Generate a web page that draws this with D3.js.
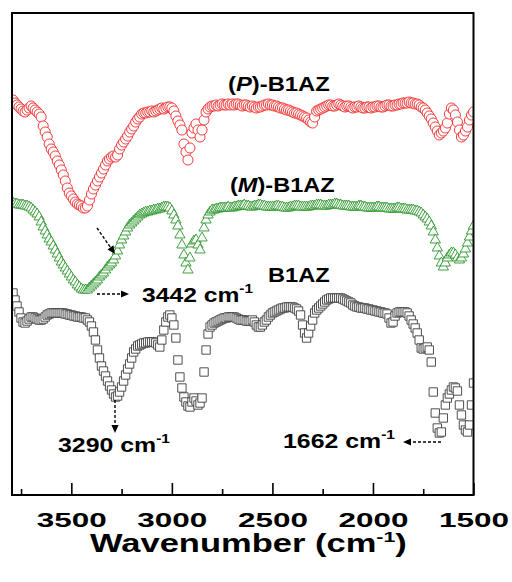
<!DOCTYPE html>
<html><head><meta charset="utf-8">
<script src="https://cdn.jsdelivr.net/npm/d3@7/dist/d3.min.js"></script>
<style>
body{margin:0;background:#fff}
svg{display:block;font-family:"Liberation Sans",Arial,sans-serif;font-weight:bold}
</style>
</head><body>
<svg id="c" width="512" height="582"></svg>
<script>
// Wavenumber grid (cm-1), sampled every 10 cm-1
const wavenumbers = d3.range(3790, 1499, -10);
const xTicksMajor = [3500, 3000, 2500, 2000, 1500];
const xTicksMinor = [3750, 3250, 2750, 2250, 1750];

// Transmittance (a.u., offset)
const seriesP = [
80,79.4,79,78.6,78.2,77.8,77.6,78,78.4,78.8,
78.4,78,77.6,77.2,76.6,74.8,73.6,72.6,71.2,70.2,
69.6,68.8,67.8,67,66,65,63.8,62.4,61.4,60.8,
60.2,59.6,59.2,59,58.8,58.4,58.4,58.8,60,61.2,
62.2,63,63.8,64.6,65.4,66.2,67,67.8,68.2,68.6,
68.8,68.6,69,70.2,71,71.6,72.2,72.8,73.6,74.2,
74.8,75.6,76.2,76.6,77.2,77.4,77.4,77.6,77.6,77.8,
77.6,77.8,78,78.2,78.4,78.2,78.4,78.6,78.6,78.4,
77.8,76.8,75.8,75,74,71.2,69.6,68,70.4,73.4,
74.4,75.2,74,72.6,74,76,77.6,78.2,78.6,78.8,
78.8,79,78.8,79,79.2,79,79,79.2,79,79.2,
79,79.2,79.2,79,78.8,79,79,78.8,78.6,78.8,
78.6,78.4,78.6,78.6,78.8,79,79,79.2,79,79,
78.8,78.8,78.6,78.4,78.4,78.2,78,78,77.8,77.6,
77.4,77.4,77.2,77,76.8,76.6,76.4,76,75.6,75.4,
76.6,77.8,78,78.2,78.4,78.6,78.8,79,79,78.8,
78.8,79,79.2,79,78.8,78.6,78.8,78.8,78.6,78.4,
78.6,78.6,78.8,78.6,78.4,78.4,78.6,78.6,78.4,78.6,
78.6,78.8,78.8,78.6,78.6,78.8,79,79,78.8,78.8,
79,79,79.2,79.2,79.4,79.4,79.4,79.6,79.4,79.4,
79.2,79.2,79,78.6,78.4,78,77.4,76.8,76.2,75.4,
74.6,73.8,73,73.4,73.8,74.4,75.4,77.2,78.4,78,
77,75.6,74,72.6,73,73.8,74.6,76,77,77.6
];
const seriesM = [
59.4,59.2,59.2,59,59,59,58.8,58.8,58.6,58.4,
58,57.6,57.2,56.6,55.6,54.6,53.8,53,52.2,51.6,
50.8,50,49.2,48.4,47.6,47,46.4,45.8,45.2,44.6,
44,43.6,43,42.6,42.2,42,42,42,42.4,42.8,
43.2,43.6,44,44.6,45,45.4,46,46.6,47,47.4,
48,48.8,49.8,51,52,52.8,53.6,54.4,55,55.4,
55.8,56.2,56.6,57,57.2,57.4,57.6,57.6,57.8,57.8,
58,58,58.2,58.2,58.4,58.6,58.6,58.6,58.4,57.8,
57,56,54.8,53,51,49,47.4,46,48.4,51.2,
51.8,52,51,50,52.4,54.4,56,57,57.6,58,
58,58.2,58.2,58.4,58.4,58.4,58.4,58.6,58.4,58.4,
58.6,58.6,58.8,58.8,58.8,59,58.8,58.8,58.6,58.6,
58.8,58.8,59,59,58.8,58.8,58.6,58.6,58.6,58.6,
58.6,58.8,58.8,58.6,58.6,58.4,58.4,58.4,58.6,58.6,
58.8,58.8,58.8,58.6,58.6,58.6,58.6,58.6,58.8,58.8,
58.8,59,59,59,58.8,58.8,58.8,59,59,59,
59.2,59.2,59,59,58.8,58.8,58.8,58.8,58.6,58.6,
58.6,58.6,58.8,58.8,58.6,58.6,58.4,58.4,58.4,58.4,
58.4,58.6,58.6,58.4,58.4,58.4,58.4,58.2,58.2,58.2,
58.2,58.4,58.4,58.2,58.2,58.2,58,58,58,58,
57.8,57.8,57.6,57.4,57,56.6,56.2,55.6,54.8,53.6,
52,50.4,48.8,47.4,46.6,47.4,48.4,49,49.4,49.4,
49,48.4,48,48.4,49.2,50.2,51.4,52.6,53.8,54.8
];
const seriesB = [
41.4,40,38.8,37.6,36.4,35.6,35.4,35.8,36.2,36.6,
36.6,36.4,36.2,36,36,36.2,36.6,37,37.2,37.4,
37.4,37.4,37.4,37.4,37.4,37.4,37.2,37.2,37,37,
36.8,36.8,36.6,36.6,36.6,36.4,36.4,36,35.6,34.8,
33.6,32,30,28.4,26.8,25.8,24.8,23.8,22.8,22,
21.2,20.6,20.8,21.6,22.6,23.8,25,26.2,27.2,28.4,
29.6,30.2,30.8,31,31.2,31.4,31.4,31.6,31.6,31.6,
31.6,31.4,31,30.6,32,34,35.6,36.6,37,36.4,
35,32.4,28,24.6,22.4,20.6,19.6,18.8,18.6,19.6,
20.4,19.8,19,19.4,20.4,25.6,30,33.2,34.6,35,
35.4,35.6,35.8,36,36.2,36.4,36.4,36.6,36.6,36.6,
36.6,36.4,36.2,36,36,36,35.8,35.8,35.8,36,
35.6,35,34.6,34.6,35,35.6,36,36.6,37,37.4,
37.6,37.8,38,38.2,38.4,38.4,38.6,38.6,38.6,38.6,
38.4,38.2,37.8,37,35,33.4,32.4,33.4,34.8,36,
37.4,38,38.4,38.8,39.2,39.6,40,40.2,40.4,40.4,
40.4,40.4,40.4,40.4,40.2,40,39.8,39.6,39.4,39,
38.8,38.6,38.6,38.4,38.4,38.4,38.2,38.2,38,38,
37.8,37.8,37.6,37.6,37.4,37.4,37.2,36.4,35.4,35.6,
36.8,37.4,37.6,37.6,37.6,37.6,37.4,36.8,36,35.2,
34.4,33.4,32,30.4,30.2,30.4,30.6,30,27.6,21.6,
17.4,14.4,13.4,13.6,16.4,19,20.4,21.2,22,22.6,
22.4,21.8,19,17,15,14,13.6,15,19,23.4
];

const svg = d3.select("#c");
const L = 12, R = 473.5, T = 13, B = 495;
const x = d3.scaleLinear().domain([3795, 1500]).range([L, R]);
const y = d3.scaleLinear().domain([1, 97.4]).range([B, T]);

svg.append("defs").append("clipPath").attr("id", "plot")
  .append("rect").attr("x", L).attr("y", T).attr("width", R - L).attr("height", B - T);

const plot = svg.append("g").attr("clip-path", "url(#plot)");

function drawSeries(vals, symType, size, stroke) {
  const sym = d3.symbol().type(symType).size(size);
  plot.append("g").selectAll("path")
    .data(wavenumbers.map((w, i) => [w, vals[i]]))
    .join("path")
    .attr("transform", d => `translate(${x(d[0])},${y(d[1])})`)
    .attr("d", sym)
    .attr("fill", "#fff")
    .attr("stroke", stroke)
    .attr("stroke-width", 0.9);
}
drawSeries(seriesB, d3.symbolSquare, 70, "#3c3c3c");
drawSeries(seriesM, d3.symbolTriangle, 46, "#2b962b");
drawSeries(seriesP, d3.symbolCircle, 80, "#f02828");

// axes
const axMaj = d3.axisBottom(x).tickValues(xTicksMajor).tickSize(-12).tickPadding(17).tickFormat(d3.format("d"));
const gMaj = svg.append("g").attr("transform", `translate(0,${B})`).call(axMaj);
gMaj.select(".domain").remove();
gMaj.selectAll("line").attr("stroke", "#000").attr("stroke-width", 1.6);
gMaj.selectAll("text").attr("font-size", 21).attr("font-weight", "bold").attr("fill", "#000")
  .attr("font-family", '"Liberation Sans",Arial,sans-serif')
  .attr("textLength", 70).attr("lengthAdjust", "spacingAndGlyphs");
const axMin = d3.axisBottom(x).tickValues(xTicksMinor).tickSize(-6).tickFormat("");
const gMin = svg.append("g").attr("transform", `translate(0,${B})`).call(axMin);
gMin.select(".domain").remove();
gMin.selectAll("line").attr("stroke", "#000").attr("stroke-width", 1.6);

// frame
svg.append("rect").attr("x", L).attr("y", T).attr("width", R - L).attr("height", B - T)
  .attr("fill", "none").attr("stroke", "#000").attr("stroke-width", 2);

// labels
function addLabel(parts, left, right, baseline, size) {
  const g = svg.append("g");
  const t = g.append("text").attr("font-size", size).attr("fill", "#000");
  parts.forEach(p => {
    const s = t.append("tspan").text(p.t);
    if (p.i) s.attr("font-style", "italic");
    if (p.sup) s.attr("font-size", size * 0.62).attr("dy", -size * 0.42);
    if (p.down) s.attr("dy", size * 0.42);
  });
  const w = t.node().getBBox().width;
  g.attr("transform", `translate(${left},${baseline}) scale(${(right - left) / w},1)`);
}
addLabel([{t: "("}, {t: "P", i: 1}, {t: ")-B1AZ"}], 228, 330, 91, 21);
addLabel([{t: "("}, {t: "M", i: 1}, {t: ")-B1AZ"}], 230, 335, 192, 21);
addLabel([{t: "B1AZ"}], 268, 330, 282, 21);
addLabel([{t: "3442 cm"}, {t: "-1", sup: 1}], 142, 253, 302, 21);
addLabel([{t: "3290 cm"}, {t: "-1", sup: 1}], 58, 170, 452, 21);
addLabel([{t: "1662 cm"}, {t: "-1", sup: 1}], 283, 395, 448, 21);
addLabel([{t: "Wavenumber (cm"}, {t: "-1", sup: 1}, {t: ")", down: 1}], 90, 407, 552, 25);

// arrows
function arrow(x1, y1, x2, y2) {
  const dx = x2 - x1, dy = y2 - y1, len = Math.hypot(dx, dy);
  const ux = dx / len, uy = dy / len, hl = 8, hw = 3.6;
  const bx = x2 - ux * hl, by = y2 - uy * hl;
  svg.append("line").attr("x1", x1).attr("y1", y1).attr("x2", bx).attr("y2", by)
    .attr("stroke", "#000").attr("stroke-width", 1.4).attr("stroke-dasharray", "3,2");
  svg.append("path")
    .attr("d", `M${x2},${y2}L${bx - uy * hw},${by + ux * hw}L${bx + uy * hw},${by - ux * hw}Z`)
    .attr("fill", "#000");
}
arrow(97, 228, 115, 254);
arrow(97, 294, 129, 294);
arrow(115, 400, 115, 433);
arrow(441, 442, 403, 442);
</script>
</body></html>
